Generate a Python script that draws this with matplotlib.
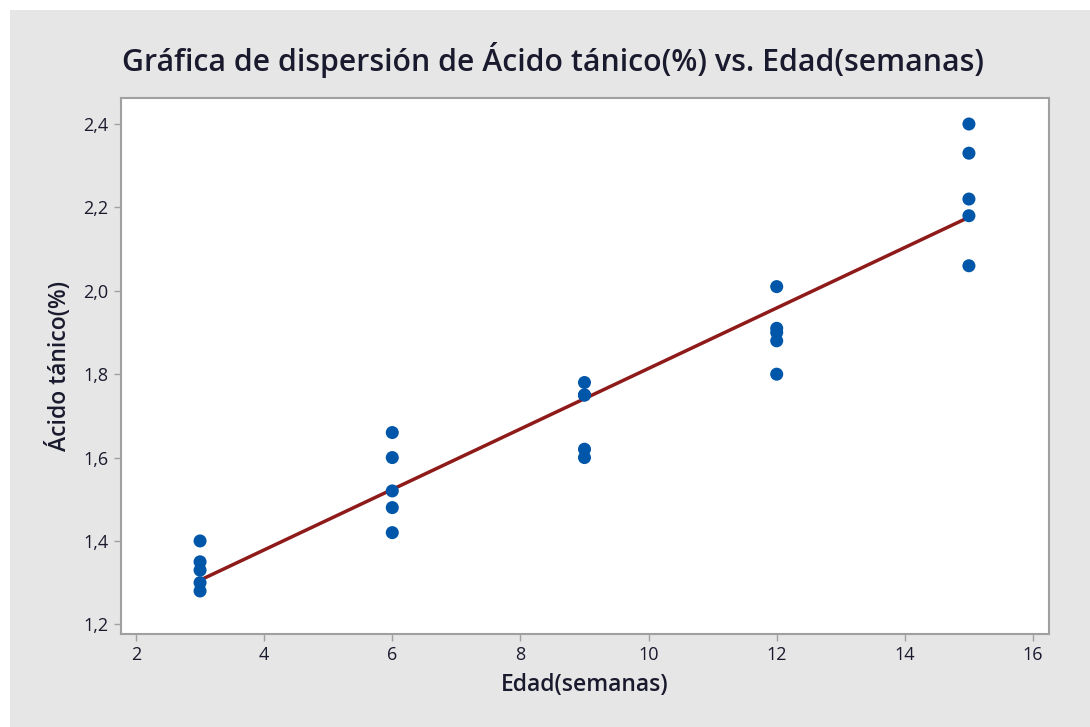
import numpy as np
import matplotlib.pyplot as plt
from matplotlib.patches import Rectangle

# Datos
edad = [3, 3, 3, 3, 3,
        6, 6, 6, 6, 6,
        9, 9, 9, 9, 9,
        12, 12, 12, 12, 12,
        15, 15, 15, 15, 15]
acido = [1.40, 1.35, 1.33, 1.30, 1.28,
         1.66, 1.60, 1.52, 1.48, 1.42,
         1.78, 1.75, 1.75, 1.62, 1.60,
         2.01, 1.91, 1.90, 1.88, 1.80,
         2.40, 2.33, 2.22, 2.18, 2.06]
x_ticks = [2, 4, 6, 8, 10, 12, 14, 16]
y_ticks = [1.2, 1.4, 1.6, 1.8, 2.0, 2.2, 2.4]

plt.rcParams['font.family'] = ['Open Sans', 'DejaVu Sans']

fig = plt.figure(figsize=(10.9, 7.27), dpi=100)
fig.patch.set_facecolor('white')
fig.patches.append(Rectangle((10 / 1090, 0), 1, 1 - 10 / 727, transform=fig.transFigure,
                             facecolor='#e6e6e6', edgecolor='none', zorder=-10))

ax = fig.add_axes([0.111, 0.128, 0.8514, 0.737])
ax.set_facecolor('white')

# Recta de regresión
b, a = np.polyfit(edad, acido, 1)
xl = np.array([min(edad), max(edad)])
ax.plot(xl, a + b * xl, color='#8e1a1a', lw=2.5, zorder=2)

ax.scatter(edad, acido, s=88, color='#0056a8', zorder=3, edgecolors='none')

ax.set_xlim(1.766, 16.25)
ax.set_ylim(1.177, 2.462)
ax.set_xticks(x_ticks)
ax.set_yticks(y_ticks)
ax.set_yticklabels([f"{v:.1f}".replace('.', ',') for v in y_ticks])

for s in ax.spines.values():
    s.set_color('#a0a0a0')
    s.set_linewidth(1.5)
ax.tick_params(direction='out', length=5, width=1, color='#a0a0a0',
               labelsize=13, labelcolor='#1a1a2e', pad=4)
for lab in ax.get_xticklabels() + ax.get_yticklabels():
    lab.set_fontweight('medium')

ax.set_xlabel('Edad(semanas)', fontsize=16.5, fontweight='semibold',
              color='#1a1a2e', labelpad=6)
ax.set_ylabel('Ácido tánico(%)', fontsize=16.5, fontweight='semibold',
              color='#1a1a2e', labelpad=8)
fig.text(0.507, 1 - 60 / 727, 'Gráfica de dispersión de Ácido tánico(%) vs. Edad(semanas)',
         ha='center', va='center', fontsize=21.8, fontweight='semibold', color='#1a1a2e')

fig.savefig('out.png', dpi=100)
